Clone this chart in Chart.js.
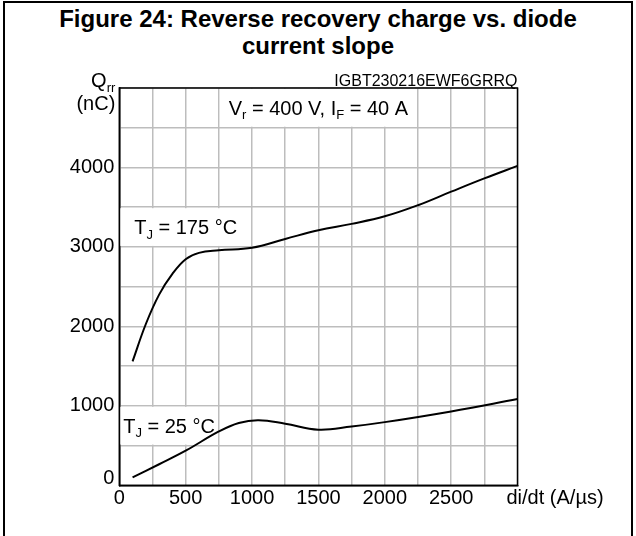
<!DOCTYPE html>
<html>
<head>
<meta charset="utf-8">
<script src="https://cdn.jsdelivr.net/npm/chart.js@4"></script>
<style>
  body { margin: 0; background: #fff; }
  #wrap { position: relative; width: 636px; height: 536px; overflow: hidden; }
  #frame { position: absolute; left: 3px; top: 1px; width: 626px; height: 600px; border: 2px solid #000; }
  #title { position: absolute; left: 0; top: 5px; width: 636px; text-align: center;
           font: bold 24px "Liberation Sans", Arial, sans-serif; line-height: 27px; color: #000; }
  canvas { position: absolute; left: 0; top: 0; }
</style>
</head>
<body>
<div id="wrap">
  <div id="frame"></div>
  <div id="title">Figure 24: Reverse recovery charge vs. diode<br>current slope</div>
  <canvas id="myChart" width="636" height="536"></canvas>
</div>
<script>
// di/dt (A/µs) and Qrr (nC)
const dIdt175 = [100, 200, 300, 400, 500, 600, 750, 1000, 1250, 1500, 1750, 2000, 2250, 2500, 2750, 3000];
const qrr175  = [1560, 2030, 2400, 2660, 2845, 2925, 2957, 2990, 3100, 3210, 3290, 3385, 3525, 3695, 3862, 4020];

const dIdt25 = [100, 300, 500, 750, 900, 1050, 1250, 1500, 1750, 2000, 2500, 3000];
const qrr25  = [100, 265, 435, 678, 785, 820, 775, 700, 740, 795, 930, 1085];

const xTicks = [0, 500, 1000, 1500, 2000, 2500];
const yTicks = [0, 1000, 2000, 3000, 4000];

const FONT = '"Liberation Sans", Arial, sans-serif';

function toPoints(xs, ys) {
    return xs.map((x, i) => ({ x: x, y: ys[i] }));
}

// draws text made of [string, isSubscript] parts
function richText(ctx, parts, x, y, size, align) {
    const sub = Math.round(size * 0.65);
    let w = 0;
    parts.forEach(p => {
        ctx.font = (p[1] ? sub : size) + 'px ' + FONT;
        w += ctx.measureText(p[0]).width;
    });
    let cx = align === 'right' ? x - w : (align === 'left' ? x : x - w / 2);
    ctx.textAlign = 'left';
    ctx.textBaseline = 'alphabetic';
    ctx.fillStyle = '#000';
    const base = y + size * 0.36;
    parts.forEach(p => {
        ctx.font = (p[1] ? sub : size) + 'px ' + FONT;
        ctx.fillText(p[0], cx, p[1] ? base + size * 0.22 : base);
        cx += ctx.measureText(p[0]).width;
    });
}

const labelsPlugin = {
    id: 'labels',
    beforeDatasetsDraw(chart) {
        const ctx = chart.ctx;
        const xs = chart.scales.x, ys = chart.scales.y;
        // text boxes sitting in grid cells (data units)
        const boxes = [
            { x0: 750, x1: 2250, y0: 4500, y1: 5000, parts: [['V', 0], ['r', 1], [' = 400 V, I', 0], ['F', 1], [' = 40 A', 0]] },
            { x0: 0, x1: 1000, y0: 3000, y1: 3500, parts: [['T', 0], ['J', 1], [' = 175 °C', 0]] },
            { x0: 0, x1: 750, y0: 500, y1: 1000, parts: [['T', 0], ['J', 1], [' = 25 °C', 0]] }
        ];
        ctx.save();
        boxes.forEach(b => {
            const l = xs.getPixelForValue(b.x0) + 1, r = xs.getPixelForValue(b.x1) - 1;
            const t = ys.getPixelForValue(b.y1) + 1, btm = ys.getPixelForValue(b.y0) - 1;
            ctx.fillStyle = '#fff';
            ctx.fillRect(l, t, r - l, btm - t);
            richText(ctx, b.parts, (l + r) / 2, (t + btm) / 2, 20, 'center');
        });
        ctx.restore();
    },
    afterDatasetsDraw(chart) {
        const ctx = chart.ctx;
        const a = chart.chartArea;
        const xs = chart.scales.x, ys = chart.scales.y;
        ctx.save();
        ctx.strokeStyle = '#000';
        ctx.lineWidth = 1.5;
        ctx.strokeRect(a.left, a.top, a.right - a.left, a.bottom - a.top);

        // axis titles placed at the last tick positions
        const topY = ys.getPixelForValue(5000);
        richText(ctx, [['Q', 0], ['rr', 1]], a.left - 4, topY - 8, 20, 'right');
        ctx.font = '20px ' + FONT;
        ctx.textAlign = 'right';
        ctx.textBaseline = 'middle';
        ctx.fillText('(nC)', a.left - 4, topY + 16);

        ctx.textAlign = 'left';
        ctx.fillText('di/dt (A/µs)', xs.getPixelForValue(3000) - 11, a.bottom + 13);

        ctx.font = '16px ' + FONT;
        ctx.textAlign = 'right';
        ctx.textBaseline = 'alphabetic';
        ctx.fillText('IGBT230216EWF6GRRQ', a.right, a.top - 2);
        ctx.restore();
    }
};

const ctx = document.getElementById('myChart').getContext('2d');
const chart = new Chart(ctx, {
    type: 'line',
    data: {
        datasets: [{
            label: 'TJ = 175 °C',
            data: toPoints(dIdt175, qrr175),
            borderColor: '#000',
            borderWidth: 2,
            pointRadius: 0,
            tension: 0.4,
            fill: false
        }, {
            label: 'TJ = 25 °C',
            data: toPoints(dIdt25, qrr25),
            borderColor: '#000',
            borderWidth: 2,
            pointRadius: 0,
            tension: 0.4,
            fill: false
        }]
    },
    options: {
        responsive: false,
        animation: false,
        layout: { padding: { top: 88, right: 118.5, bottom: 20.7, left: 0 } },
        plugins: {
            legend: { display: false },
            tooltip: { enabled: false }
        },
        scales: {
            x: {
                type: 'linear',
                min: 0,
                max: 3000,
                ticks: {
                    stepSize: 250,
                    autoSkip: false,
                    maxRotation: 0,
                    padding: 1,
                    color: '#000',
                    font: { family: FONT, size: 20 },
                    callback: v => xTicks.includes(v) ? String(v) : ''
                },
                grid: { color: '#bdbdbd', lineWidth: 1.5, drawTicks: false },
                border: { color: '#000', width: 1.5 },
                afterFit: s => { s.height = 30; }
            },
            y: {
                min: 0,
                max: 5000,
                ticks: {
                    stepSize: 500,
                    autoSkip: false,
                    padding: 5,
                    color: '#000',
                    font: { family: FONT, size: 20, lineHeight: 0.7 },
                    // the 0 label sits a little higher, above the x axis 0
                    callback: v => v === 0 ? ['0', ''] : (yTicks.includes(v) ? String(v) : '')
                },
                grid: { color: '#bdbdbd', lineWidth: 1.5, drawTicks: false },
                border: { color: '#000', width: 1.5 },
                afterFit: s => { s.width = 119.3; }
            }
        }
    },
    plugins: [labelsPlugin]
});
</script>
</body>
</html>
